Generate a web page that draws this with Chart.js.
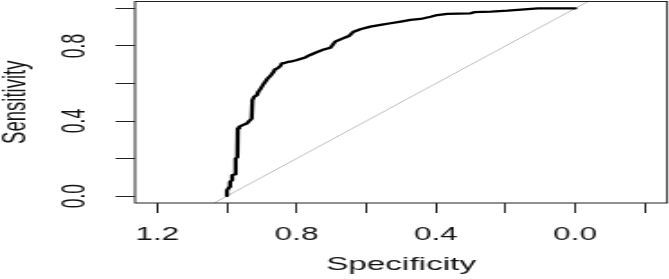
<!DOCTYPE html>
<html>
<head>
<meta charset="utf-8">
<script src="https://cdn.jsdelivr.net/npm/chart.js@4/dist/chart.umd.min.js"></script>
<style>
  html, body { margin: 0; padding: 0; background: #fff; overflow: hidden; }
  #wrap { width: 372px; height: 279px; transform: scaleX(1.8); transform-origin: 0 0; }
</style>
</head>
<body>
<div id="wrap"><canvas id="c" width="372" height="279"></canvas></div>
<script>
// ROC curve (specificity, sensitivity)
const specificity = [1.000, 1.000, 0.993, 0.991, 0.986, 0.985, 0.977, 0.975, 0.970, 0.969, 0.965, 0.955, 0.943, 0.934, 0.929, 0.927, 0.922, 0.914, 0.910, 0.905, 0.900, 0.895, 0.890, 0.883, 0.876, 0.868, 0.862, 0.855, 0.847, 0.842, 0.833, 0.823, 0.818, 0.799, 0.775, 0.761, 0.746, 0.727, 0.703, 0.689, 0.674, 0.650, 0.641, 0.636, 0.617, 0.588, 0.559, 0.530, 0.501, 0.473, 0.444, 0.415, 0.396, 0.367, 0.300, 0.290, 0.242, 0.194, 0.136, 0.107, 0.000];
const sensitivity = [0.000, 0.030, 0.048, 0.075, 0.084, 0.111, 0.116, 0.200, 0.208, 0.360, 0.369, 0.378, 0.387, 0.404, 0.413, 0.511, 0.529, 0.538, 0.556, 0.568, 0.582, 0.597, 0.609, 0.627, 0.639, 0.657, 0.675, 0.681, 0.693, 0.707, 0.710, 0.716, 0.716, 0.725, 0.739, 0.752, 0.764, 0.778, 0.791, 0.823, 0.835, 0.853, 0.868, 0.876, 0.889, 0.903, 0.912, 0.921, 0.930, 0.939, 0.944, 0.956, 0.965, 0.971, 0.974, 0.980, 0.983, 0.988, 0.996, 1.000, 1.000];
// chance diagonal (sensitivity = 1 - specificity), clipped to the plot box
const diagSpecificity = [1.5, -0.5];
const diagSensitivity = [-0.5, 1.5];
// axes
const xTickValues = [1.2, 1.0, 0.8, 0.6, 0.4, 0.2, 0.0, -0.2];
const xTickLabels = ['1.2', '', '0.8', '', '0.4', '', '0.0', ''];
const yTickValues = [0.0, 0.2, 0.4, 0.6, 0.8, 1.0];
const yTickLabels = ['0.0', '', '0.4', '', '0.8', ''];
const xTitle = 'Specificity';
const yTitle = 'Sensitivity';

const FONT = '"Liberation Sans", Arial, sans-serif';
const INK = '#222';
const TEXT = '#111';

const curve = specificity.map((s, i) => ({ x: s, y: sensitivity[i] }));
const diag = diagSpecificity.map((s, i) => ({ x: s, y: diagSensitivity[i] }));

const rPlot = {
  id: 'rPlot',
  afterDraw(chart) {
    const { ctx, chartArea: a, scales: { y } } = chart;
    ctx.save();
    ctx.strokeStyle = INK;
    ctx.lineWidth = 1;
    ctx.strokeRect(a.left, a.top, a.right - a.left, a.bottom - a.top);
    ctx.fillStyle = TEXT;
    ctx.font = '17.5px ' + FONT;
    ctx.textAlign = 'center';
    ctx.textBaseline = 'middle';
    yTickValues.forEach((v, i) => {
      if (!yTickLabels[i]) return;
      const py = y.getPixelForValue(v);
      ctx.save();
      ctx.translate(42.2, py);
      ctx.rotate(-Math.PI / 2);
      ctx.fillText(yTickLabels[i], 0, 0);
      ctx.restore();
    });
    ctx.restore();
  }
};

new Chart(document.getElementById('c'), {
  type: 'scatter',
  data: {
    datasets: [
      { data: curve, showLine: true, borderColor: '#000', borderWidth: 2.3, pointRadius: 0,
        borderJoinStyle: 'round', borderCapStyle: 'round', order: 0 },
      { data: diag, showLine: true, borderColor: '#bdbdbd', borderWidth: 1, pointRadius: 0, clip: 0, order: 1 }
    ]
  },
  options: {
    responsive: false,
    animation: false,
    events: [],
    layout: { padding: { left: 0, right: 1.4, top: 1.5, bottom: 0 } },
    plugins: { legend: { display: false }, tooltip: { enabled: false } },
    scales: {
      x: {
        type: 'linear', reverse: true, min: -0.264, max: 1.264,
        afterBuildTicks: s => { s.ticks = xTickValues.map(v => ({ value: v })); },
        afterFit: s => { s.height = 76; },
        border: { display: false },
        grid: { drawOnChartArea: false, drawTicks: true, tickLength: 10, color: INK, tickColor: INK, tickWidth: 1 },
        ticks: { autoSkip: false, maxRotation: 0, minRotation: 0, padding: 12, color: TEXT,
                 font: { family: FONT, size: 17.5 },
                 callback: (v, i) => xTickLabels[i] },
        title: { display: true, text: xTitle, color: TEXT, font: { family: FONT, size: 18.5, lineHeight: 1 },
                 padding: { top: 0, bottom: 5 } }
      },
      y: {
        type: 'linear', min: -0.037, max: 1.037,
        afterBuildTicks: s => { s.ticks = yTickValues.map(v => ({ value: v })); },
        afterFit: s => { s.width = 75; },
        border: { display: false },
        grid: { drawOnChartArea: false, drawTicks: true, tickLength: 10.8, color: INK, tickColor: INK, tickWidth: 1 },
        ticks: { display: false },
        title: { display: true, text: yTitle, color: TEXT, font: { family: FONT, size: 18.5, lineHeight: 0.93 },
                 padding: 0 }
      }
    }
  },
  plugins: [rPlot]
});
</script>
</body>
</html>
